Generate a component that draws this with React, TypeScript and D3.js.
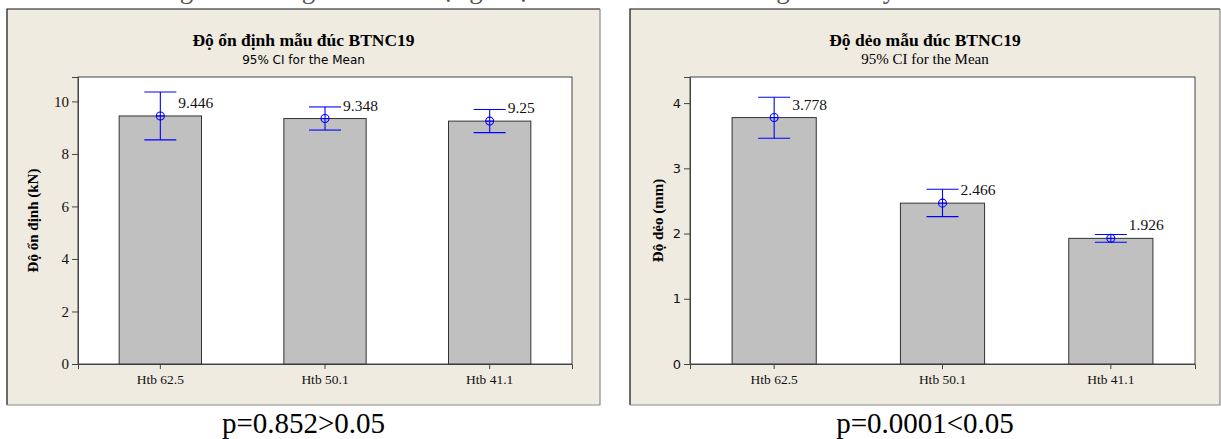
import React, { useEffect, useRef } from "react";
import * as d3 from "d3";

// values
const categories = ["Htb 62.5", "Htb 50.1", "Htb 41.1"];

const stabMeans = [9.446, 9.348, 9.25];
const stabLow = [8.536, 8.91, 8.81];
const stabHigh = [10.356, 9.79, 9.69];
const stabTicks = [0, 2, 4, 6, 8, 10];

const flowMeans = [3.778, 2.466, 1.926];
const flowLow = [3.46, 2.26, 1.866];
const flowHigh = [4.09, 2.68, 1.986];
const flowTicks = [0, 1, 2, 3, 4];

const SERIF = "'Liberation Serif', 'Times New Roman', serif";
const SANS = "'DejaVu Sans', Tahoma, sans-serif";

type PanelCfg = {
  box: { x: number; y: number; w: number; h: number };
  plot: { l: number; r: number; t: number; b: number };
  yMax: number;
  title: string;
  subFont: string;
  subSize: number;
  yLabel: string;
  yLabelX: number;
  tickFont: string;
  tickSize: number;
  means: number[];
  low: number[];
  high: number[];
  ticks: number[];
  pText: string;
};

const panels: PanelCfg[] = [
  {
    box: { x: 7, y: 9, w: 593, h: 396 },
    plot: { l: 78, r: 572, t: 77, b: 364 },
    yMax: 10.93,
    title: "Độ ổn định mẫu đúc BTNC19",
    subFont: SANS,
    subSize: 12,
    yLabel: "Độ ổn định (kN)",
    yLabelX: 38,
    tickFont: SERIF,
    tickSize: 15,
    means: stabMeans,
    low: stabLow,
    high: stabHigh,
    ticks: stabTicks,
    pText: "p=0.852>0.05",
  },
  {
    box: { x: 630, y: 9, w: 590, h: 396 },
    plot: { l: 690, r: 1195, t: 77, b: 364 },
    yMax: 4.4,
    title: "Độ dẻo mẫu đúc BTNC19",
    subFont: SERIF,
    subSize: 15,
    yLabel: "Độ dẻo (mm)",
    yLabelX: 663,
    tickFont: SANS,
    tickSize: 13,
    means: flowMeans,
    low: flowLow,
    high: flowHigh,
    ticks: flowTicks,
    pText: "p=0.0001<0.05",
  },
];

function drawPanel(svg: d3.Selection<SVGSVGElement, unknown, null, undefined>, p: PanelCfg) {
  const g = svg.append("g");
  const { box, plot } = p;
  const cx = box.x + box.w / 2;

  // panel background + frame (dark top/left, grey bottom/right)
  g.append("rect").attr("x", box.x).attr("y", box.y).attr("width", box.w).attr("height", box.h)
    .attr("fill", "#efebe1");
  g.append("path")
    .attr("d", `M${box.x},${box.y + box.h}V${box.y}H${box.x + box.w}`)
    .attr("fill", "none").attr("stroke", "#111").attr("stroke-width", 1.2);
  g.append("path")
    .attr("d", `M${box.x + box.w},${box.y}V${box.y + box.h}H${box.x}`)
    .attr("fill", "none").attr("stroke", "#8a8a8a").attr("stroke-width", 1.2);

  g.append("text").attr("x", cx).attr("y", box.y + 37).attr("text-anchor", "middle")
    .attr("font-family", SERIF).attr("font-weight", "bold").attr("font-size", 17.5)
    .text(p.title);
  g.append("text").attr("x", cx).attr("y", box.y + 55).attr("text-anchor", "middle")
    .attr("font-family", p.subFont).attr("font-size", p.subSize)
    .text("95% CI for the Mean");

  // plot area
  g.append("rect").attr("x", plot.l).attr("y", plot.t)
    .attr("width", plot.r - plot.l).attr("height", plot.b - plot.t)
    .attr("fill", "#fff").attr("stroke", "#444").attr("stroke-width", 1);

  const x = d3.scaleBand<string>().domain(categories).range([plot.l, plot.r]).paddingInner(0.5).paddingOuter(0.25);
  const y = d3.scaleLinear().domain([0, p.yMax]).range([plot.b, plot.t]);

  const yAxis = g.append("g").attr("transform", `translate(${plot.l},0)`)
    .call(d3.axisLeft(y).tickValues(p.ticks).tickSize(6).tickPadding(3).tickFormat(d3.format("d")));
  yAxis.select(".domain").attr("stroke", "#444");
  yAxis.selectAll(".tick line").attr("stroke", "#444");
  yAxis.selectAll("text").attr("font-family", p.tickFont).attr("font-size", p.tickSize).attr("fill", "#111");

  const xAxis = g.append("g").attr("transform", `translate(0,${plot.b})`)
    .call(d3.axisBottom(x).tickSize(5).tickPadding(5));
  xAxis.select(".domain").attr("stroke", "#444");
  xAxis.selectAll(".tick line").attr("stroke", "#444");
  xAxis.selectAll("text").attr("font-family", SERIF).attr("font-size", 13.5).attr("fill", "#111");

  g.append("text")
    .attr("transform", `translate(${p.yLabelX},${(plot.t + plot.b) / 2}) rotate(-90)`)
    .attr("text-anchor", "middle").attr("font-family", SERIF).attr("font-weight", "bold")
    .attr("font-size", 15).text(p.yLabel);

  const rows = categories.map((c, i) => ({ c, m: p.means[i], lo: p.low[i], hi: p.high[i] }));

  g.selectAll(".bar").data(rows).join("rect").attr("class", "bar")
    .attr("x", d => x(d.c)!).attr("y", d => y(d.m))
    .attr("width", x.bandwidth()).attr("height", d => plot.b - y(d.m))
    .attr("fill", "#c0c0c0").attr("stroke", "#333").attr("stroke-width", 1);

  const eb = g.selectAll(".eb").data(rows).join("g").attr("class", "eb")
    .attr("transform", d => `translate(${x(d.c)! + x.bandwidth() / 2},0)`)
    .attr("stroke", "#0000ff").attr("stroke-width", 1.1).attr("fill", "none");
  eb.append("line").attr("y1", d => y(d.hi)).attr("y2", d => y(d.lo));
  eb.append("line").attr("x1", -16).attr("x2", 16).attr("y1", d => y(d.hi)).attr("y2", d => y(d.hi));
  eb.append("line").attr("x1", -16).attr("x2", 16).attr("y1", d => y(d.lo)).attr("y2", d => y(d.lo));
  eb.append("circle").attr("cy", d => y(d.m)).attr("r", 4);
  eb.append("line").attr("x1", -4).attr("x2", 4).attr("y1", d => y(d.m)).attr("y2", d => y(d.m));

  g.selectAll(".val").data(rows).join("text").attr("class", "val")
    .attr("x", d => x(d.c)! + x.bandwidth() / 2 + 18).attr("y", d => y(d.m) - 8)
    .attr("font-family", SERIF).attr("font-size", 15.5).attr("fill", "#111")
    .text(d => String(d.m));

  g.append("text").attr("x", cx).attr("y", 433).attr("text-anchor", "middle")
    .attr("font-family", SERIF).attr("font-size", 29).attr("fill", "#000")
    .text(p.pText);
}

export default function App() {
  const ref = useRef<SVGSVGElement>(null);

  useEffect(() => {
    const svg = d3.select(ref.current!);
    svg.selectAll("*").remove();
    svg.append("rect").attr("width", 1221).attr("height", 439).attr("fill", "#fff");
    // caption line above, mostly cut off by the crop (only descenders show)
    svg.append("text").attr("x", 640).attr("y", -2).attr("text-anchor", "middle")
      .attr("font-family", SERIF).attr("font-size", 27).attr("fill", "#555")
      .text("Bảng ảnh hưởng của hàm lượng nhựa đến các mẫu đúc bằng đầm máy cho các mẫu BTNC19");
    panels.forEach(p => drawPanel(svg, p));
  }, []);

  return (
    <svg ref={ref} width={1221} height={439}
      style={{ position: "absolute", left: 0, top: 0, display: "block" }} />
  );
}
